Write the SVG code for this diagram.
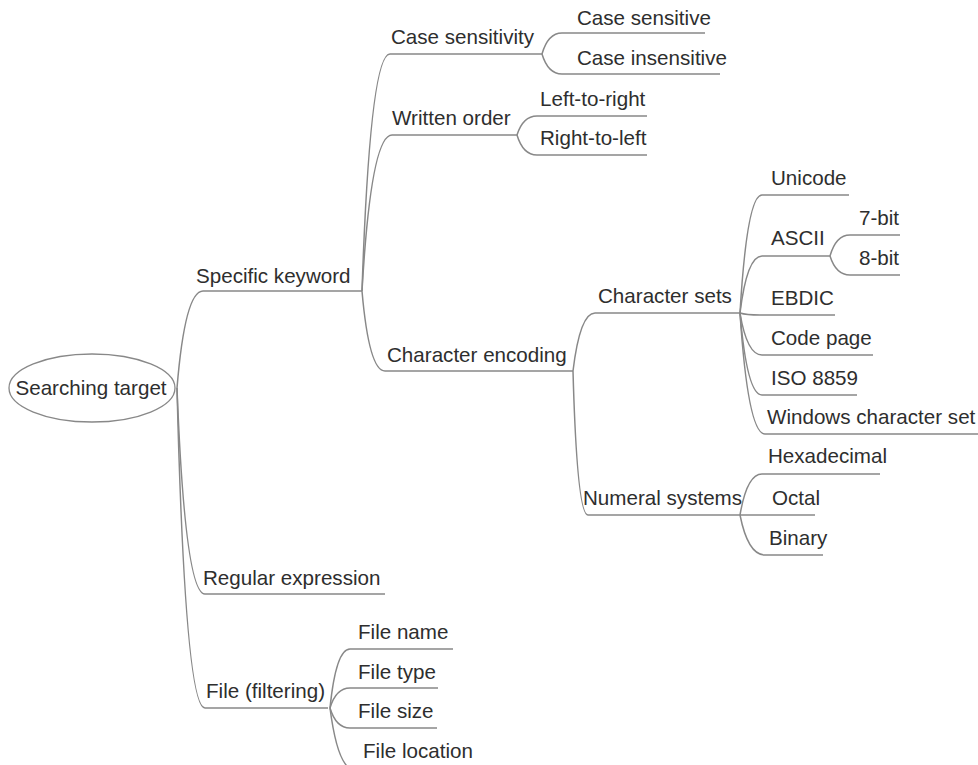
<svg xmlns="http://www.w3.org/2000/svg" width="978" height="765" viewBox="0 0 978 765">
<style>
text{font-family:"Liberation Sans",Arial,sans-serif;font-size:20.6px;fill:#2e2e2e}
.c path{fill:none;stroke:#888;stroke-width:1.5}
.root{fill:#fff;stroke:#888;stroke-width:1.3}
</style>
<rect width="978" height="765" fill="#fff"/>
<g class="c" id="connectors">
<path d="M177,388 Q185,291 203,291 H362"/>
<path d="M362,291 Q370,54 390,54 H542"/>
<path d="M542,54 Q548,33 562,33 H705"/>
<path d="M542,54 Q548,74 562,74 H720"/>
<path d="M362,291 Q371,135 392,135 H517"/>
<path d="M517,135 Q523,116 537,116 H647"/>
<path d="M517,135 Q523,155 537,155 H647"/>
<path d="M362,291 Q369,371 385,371 H573"/>
<path d="M573,371 Q580,313 595,313 H740"/>
<path d="M740,313 Q747,195 762,195 H849"/>
<path d="M740,313 Q747,256 762,256 H830"/>
<path d="M830,256 Q836,235 850,235 H900"/>
<path d="M830,256 Q836,275 850,275 H900"/>
<path d="M740,313 Q746,315 760,315 H835"/>
<path d="M740,313 Q747,355 762,355 H873"/>
<path d="M740,313 Q747,395 762,395 H857"/>
<path d="M740,313 Q748,434 765,434 H978"/>
<path d="M573,371 Q577,515 588,515 H740"/>
<path d="M740,515 Q747,474 762,474 H880"/>
<path d="M740,515 H815"/>
<path d="M740,515 Q748,555 765,555 H823"/>
<path d="M177,388 Q185,594 205,594 H385"/>
<path d="M177,388 Q185,708 205,708 H328"/>
<path d="M330,708 Q336,649 350,649 H453"/>
<path d="M330,708 Q336,688 350,688 H438"/>
<path d="M330,708 Q336,728 350,728 H437"/>
<path d="M330,708 Q338,770 355,770 H475"/>
</g>
<g id="n-root"><ellipse class="root" cx="92" cy="388" rx="83" ry="34"/><text x="91" y="395" text-anchor="middle">Searching target</text></g>
<g id="n-specific"><text x="196" y="283">Specific keyword</text></g>
<g id="n-case"><text x="391" y="44">Case sensitivity</text></g>
<g id="n-case-s"><text x="577" y="25">Case sensitive</text></g>
<g id="n-case-i"><text x="577" y="65">Case insensitive</text></g>
<g id="n-written"><text x="392" y="125">Written order</text></g>
<g id="n-ltr"><text x="540" y="106">Left-to-right</text></g>
<g id="n-rtl"><text x="540" y="145">Right-to-left</text></g>
<g id="n-charenc"><text x="387" y="362">Character encoding</text></g>
<g id="n-charsets"><text x="598" y="303">Character sets</text></g>
<g id="n-unicode"><text x="771" y="185">Unicode</text></g>
<g id="n-ascii"><text x="771" y="245">ASCII</text></g>
<g id="n-7bit"><text x="859" y="225">7-bit</text></g>
<g id="n-8bit"><text x="859" y="265">8-bit</text></g>
<g id="n-ebdic"><text x="771" y="305">EBDIC</text></g>
<g id="n-codepage"><text x="771" y="345">Code page</text></g>
<g id="n-iso"><text x="771" y="385">ISO 8859</text></g>
<g id="n-windows"><text x="767" y="424">Windows character set</text></g>
<g id="n-numeral"><text x="583" y="505">Numeral systems</text></g>
<g id="n-hex"><text x="768" y="463">Hexadecimal</text></g>
<g id="n-octal"><text x="772" y="505">Octal</text></g>
<g id="n-binary"><text x="769" y="545">Binary</text></g>
<g id="n-regex"><text x="203" y="585">Regular expression</text></g>
<g id="n-file"><text x="206" y="698">File (filtering)</text></g>
<g id="n-fname"><text x="358" y="639">File name</text></g>
<g id="n-ftype"><text x="358" y="679">File type</text></g>
<g id="n-fsize"><text x="358" y="718">File size</text></g>
<g id="n-floc"><text x="363" y="758">File location</text></g>
</svg>
